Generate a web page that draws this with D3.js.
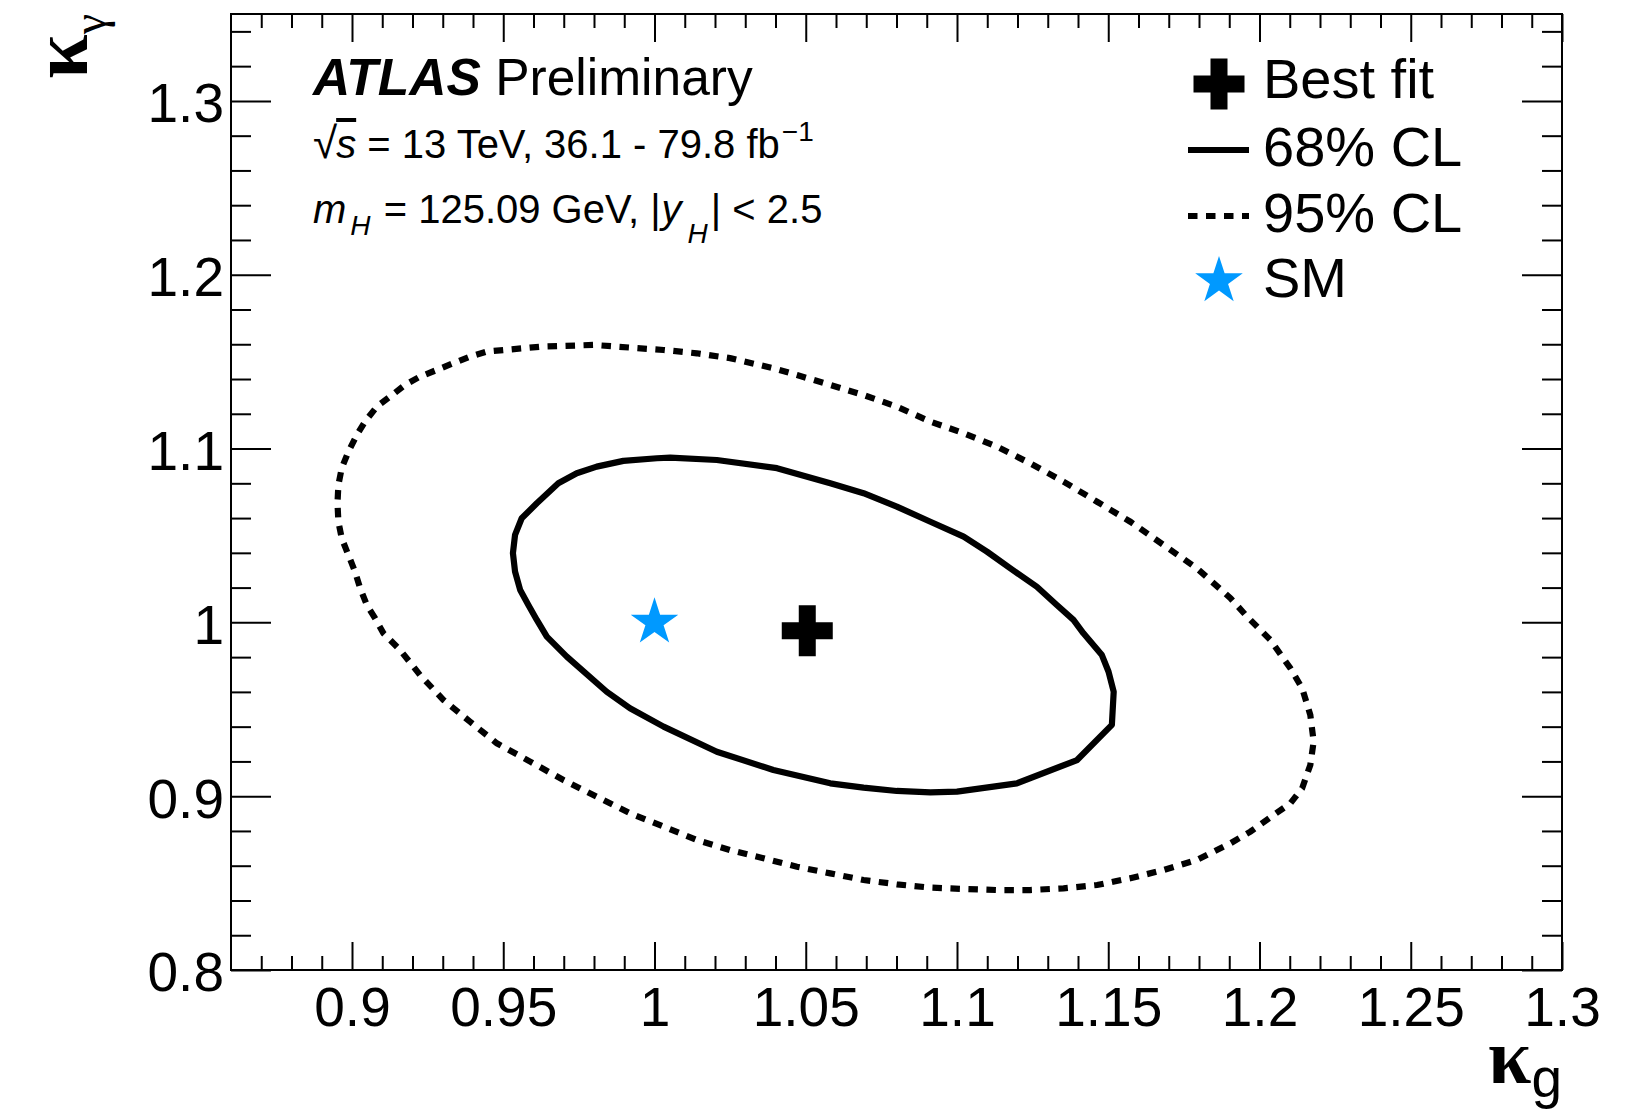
<!DOCTYPE html>
<html>
<head>
<meta charset="utf-8">
<script src="https://cdn.jsdelivr.net/npm/d3@7"></script>
<style>
  html, body { margin: 0; padding: 0; background: #fff; }
  svg { display: block; }
  text { font-family: "Liberation Sans", Arial, Helvetica, sans-serif; fill: #000; }
</style>
</head>
<body>
<svg id="chart" width="1650" height="1112"></svg>
<script>
// Axis ticks and labels
const xMajorTicks = [0.9, 0.95, 1.0, 1.05, 1.1, 1.15, 1.2, 1.25, 1.3];
const xTickLabels = ["0.9", "0.95", "1", "1.05", "1.1", "1.15", "1.2", "1.25", "1.3"];
const yMajorTicks = [0.8, 0.9, 1.0, 1.1, 1.2, 1.3];
const yTickLabels = ["0.8", "0.9", "1", "1.1", "1.2", "1.3"];

// Best-fit point and Standard Model expectation (kappa_g, kappa_gamma)
const bestFit = [1.0505, 0.9952];
const smPoint = [1.0, 1.0];

// 68% CL contour in the (kappa_g, kappa_gamma) plane
const contour68 = [
  [0.9611, 1.0014], [0.9583, 1.0100], [0.9556, 1.0186], [0.9539, 1.0292], [0.9532, 1.0398],
  [0.9539, 1.0503], [0.9561, 1.0599], [0.9611, 1.0685], [0.9682, 1.0800], [0.9743, 1.0858],
  [0.9809, 1.0896], [0.9897, 1.0929], [1.0008, 1.0944], [1.0052, 1.0948], [1.0206, 1.0934],
  [1.0405, 1.0887], [1.0581, 1.0800], [1.0691, 1.0743], [1.0801, 1.0666], [1.0912, 1.0579],
  [1.1022, 1.0493], [1.1099, 1.0407], [1.1176, 1.0311], [1.1264, 1.0205], [1.1330, 1.0100],
  [1.1385, 1.0014], [1.1418, 0.9937], [1.1479, 0.9812], [1.1501, 0.9716], [1.1518, 0.9601],
  [1.1512, 0.9410], [1.1397, 0.9208], [1.1198, 0.9074], [1.1000, 0.9026], [1.0912, 0.9022],
  [1.0801, 0.9030], [1.0691, 0.9049], [1.0581, 0.9074], [1.0393, 0.9151], [1.0206, 0.9256],
  [1.0030, 0.9400], [0.9919, 0.9506], [0.9842, 0.9601], [0.9710, 0.9803], [0.9644, 0.9918]
];

// 95% CL contour
const contour95 = [
  [0.9076, 1.0024], [0.9049, 1.0100], [0.9027, 1.0196], [0.9010, 1.0292], [0.8988, 1.0388],
  [0.8966, 1.0484], [0.8955, 1.0579], [0.8952, 1.0685], [0.8955, 1.0791], [0.8966, 1.0887],
  [0.8988, 1.0982], [0.9016, 1.1078], [0.9043, 1.1155], [0.9082, 1.1241], [0.9126, 1.1299],
  [0.9175, 1.1366], [0.9225, 1.1414], [0.9280, 1.1452], [0.9335, 1.1491], [0.9390, 1.1529],
  [0.9446, 1.1558], [0.9622, 1.1586], [0.9798, 1.1596], [1.0030, 1.1567], [1.0140, 1.1548],
  [1.0250, 1.1520], [1.0393, 1.1462], [1.0471, 1.1423], [1.0581, 1.1366], [1.0691, 1.1308],
  [1.0801, 1.1241], [1.0912, 1.1155], [1.1022, 1.1088], [1.1132, 1.1011], [1.1242, 1.0915],
  [1.1352, 1.0810], [1.1463, 1.0694], [1.1573, 1.0579], [1.1683, 1.0445], [1.1793, 1.0311],
  [1.1904, 1.0139], [1.1959, 1.0033], [1.2036, 0.9899], [1.2102, 0.9736], [1.2141, 0.9621],
  [1.2168, 0.9467], [1.2179, 0.9314], [1.2168, 0.9180], [1.2141, 0.9045], [1.2102, 0.8959],
  [1.2047, 0.8892], [1.1970, 0.8796], [1.1904, 0.8729], [1.1793, 0.8633], [1.1683, 0.8575],
  [1.1573, 0.8528], [1.1463, 0.8489], [1.1352, 0.8470], [1.1242, 0.8460], [1.1132, 0.8460],
  [1.1022, 0.8466], [1.0912, 0.8474], [1.0801, 0.8493], [1.0691, 0.8518], [1.0581, 0.8556],
  [1.0471, 0.8594], [1.0360, 0.8643], [1.0250, 0.8690], [1.0140, 0.8748], [1.0030, 0.8825],
  [0.9919, 0.8902], [0.9809, 0.8997], [0.9699, 0.9093], [0.9589, 0.9199], [0.9479, 0.9304],
  [0.9390, 0.9429], [0.9302, 0.9554], [0.9225, 0.9697], [0.9159, 0.9841], [0.9104, 0.9937]
];

const legendLabels = ["Best fit", "68% CL", "95% CL", "SM"];

// ---- layout ----
const frame = { left: 231, right: 1562, top: 14, bottom: 970 };
const x = d3.scaleLinear().domain([0.86, 1.30]).range([frame.left, frame.right]);
const y = d3.scaleLinear().domain([0.80, 1.35]).range([frame.bottom, frame.top]);

const svg = d3.select("#chart");
const starColor = "#0099ff";
const lineWidth = 6.2;
const dashPattern = "9.5,8.5";

// minor tick positions (every 0.01 in kappa_g, every 0.02 in kappa_gamma)
const xMinor = d3.range(87, 130).filter(v => v % 5 !== 0).map(v => v / 100);
const yMinor = d3.range(82, 136, 2).filter(v => v % 10 !== 0).map(v => v / 100);

// ---- contours ----
const contourLine = d3.line()
  .x(d => x(d[0]))
  .y(d => y(d[1]))
  .curve(d3.curveLinearClosed);

svg.append("path")
  .attr("d", contourLine(contour95))
  .attr("fill", "none")
  .attr("stroke", "#000")
  .attr("stroke-width", lineWidth)
  .attr("stroke-dasharray", dashPattern);

svg.append("path")
  .attr("d", contourLine(contour68))
  .attr("fill", "none")
  .attr("stroke", "#000")
  .attr("stroke-width", lineWidth)
  .attr("stroke-linejoin", "round");

// ---- markers ----
const crossSym = d3.symbol(d3.symbolCross, 1445);
const starSym = d3.symbol(d3.symbolStar, 702);

svg.append("path")
  .attr("d", starSym())
  .attr("transform", `translate(${x(smPoint[0])},${y(smPoint[1])})`)
  .attr("fill", starColor);

svg.append("path")
  .attr("d", crossSym())
  .attr("transform", `translate(${x(bestFit[0])},${y(bestFit[1])})`)
  .attr("fill", "#000");

// ---- frame and axes ----
function styleAxis(sel) {
  sel.select(".domain").remove();
  sel.selectAll(".tick line").attr("stroke", "#000").attr("stroke-width", 2);
  sel.attr("font-family", null).attr("font-size", null);
  sel.selectAll("text")
    .attr("fill", "#000")
    .style("font-family", '"Liberation Sans", Arial, sans-serif')
    .style("font-size", "55px");
}

// bottom: majors with labels, minors
svg.append("g")
  .attr("transform", `translate(0,${frame.bottom})`)
  .call(d3.axisBottom(x).tickValues(xMajorTicks)
    .tickFormat((d, i) => xTickLabels[i]).tickSize(-28).tickPadding(17))
  .call(styleAxis);
svg.append("g")
  .attr("transform", `translate(0,${frame.bottom})`)
  .call(d3.axisBottom(x).tickValues(xMinor).tickFormat("").tickSize(-14))
  .call(styleAxis);

// top mirror ticks
svg.append("g")
  .attr("transform", `translate(0,${frame.top})`)
  .call(d3.axisTop(x).tickValues(xMajorTicks).tickFormat("").tickSize(-28))
  .call(styleAxis);
svg.append("g")
  .attr("transform", `translate(0,${frame.top})`)
  .call(d3.axisTop(x).tickValues(xMinor).tickFormat("").tickSize(-14))
  .call(styleAxis);

// left: majors with labels, minors
const yAxisG = svg.append("g")
  .attr("transform", `translate(${frame.left},0)`)
  .call(d3.axisLeft(y).tickValues(yMajorTicks)
    .tickFormat((d, i) => yTickLabels[i]).tickSize(-40).tickPadding(7))
  .call(styleAxis);
yAxisG.selectAll("text").attr("dy", "0.38em");
svg.append("g")
  .attr("transform", `translate(${frame.left},0)`)
  .call(d3.axisLeft(y).tickValues(yMinor).tickFormat("").tickSize(-20))
  .call(styleAxis);

// right mirror ticks
svg.append("g")
  .attr("transform", `translate(${frame.right},0)`)
  .call(d3.axisRight(y).tickValues(yMajorTicks).tickFormat("").tickSize(-40))
  .call(styleAxis);
svg.append("g")
  .attr("transform", `translate(${frame.right},0)`)
  .call(d3.axisRight(y).tickValues(yMinor).tickFormat("").tickSize(-20))
  .call(styleAxis);

svg.append("rect")
  .attr("x", frame.left).attr("y", frame.top)
  .attr("width", frame.right - frame.left)
  .attr("height", frame.bottom - frame.top)
  .attr("fill", "none")
  .attr("stroke", "#000")
  .attr("stroke-width", 2);

// ---- axis titles ----
const serif = '"Liberation Serif", "Times New Roman", serif';
const xTitle = svg.append("text")
  .attr("x", frame.right)
  .attr("y", 1083)
  .attr("text-anchor", "end");
xTitle.append("tspan")
  .style("font-family", serif)
  .style("font-weight", "bold")
  .style("font-size", "78px")
  .text("κ");
xTitle.append("tspan")
  .attr("dy", 14)
  .style("font-size", "55px")
  .text("g");

const yTitle = svg.append("text")
  .attr("transform", `translate(87,${frame.top}) rotate(-90)`)
  .attr("text-anchor", "end");
yTitle.append("tspan")
  .style("font-family", serif)
  .style("font-weight", "bold")
  .style("font-size", "80px")
  .text("κ");
yTitle.append("tspan")
  .attr("dy", 18)
  .style("font-family", serif)
  .style("font-size", "46px")
  .text("γ");

// ---- ATLAS label block ----
const label1 = svg.append("text").attr("x", 313).attr("y", 95).style("font-size", "51.5px");
label1.append("tspan").style("font-weight", "bold").style("font-style", "italic").text("ATLAS");
label1.append("tspan").text(" Preliminary");

const label2 = svg.append("text").attr("x", 313).attr("y", 158).style("font-size", "40px");
label2.append("tspan").style("font-size", "44px").text("√");
label2.append("tspan").attr("dx", -1).style("font-style", "italic").attr("text-decoration", "overline").text("s");
label2.append("tspan").text(" = 13 TeV, 36.1 - 79.8 fb");
label2.append("tspan").attr("dx", 2).attr("dy", -17).style("font-size", "28px").text("−1");

const label3 = svg.append("text").attr("x", 313).attr("y", 223).style("font-size", "40px");
label3.append("tspan").style("font-style", "italic").text("m");
label3.append("tspan").attr("dx", 4).attr("dy", 12).style("font-style", "italic").style("font-size", "28px").text("H");
label3.append("tspan").attr("dx", 2).attr("dy", -12).text(" = 125.09 GeV, |");
label3.append("tspan").attr("dx", 1).style("font-style", "italic").text("y");
label3.append("tspan").attr("dx", 6).attr("dy", 20).style("font-style", "italic").style("font-size", "28px").text("H");
label3.append("tspan").attr("dx", 3).attr("dy", -20).text("| < 2.5");

// ---- legend ----
const legendX = 1219;        // symbol centre
const legendTextX = 1263;
const legendBase = [98, 166, 232, 297];
const legend = svg.append("g");

legend.append("path")
  .attr("d", crossSym())
  .attr("transform", `translate(${legendX},${legendBase[0] - 14})`)
  .attr("fill", "#000");
legend.append("line")
  .attr("x1", legendX - 31).attr("x2", legendX + 30)
  .attr("y1", legendBase[1] - 16).attr("y2", legendBase[1] - 16)
  .attr("stroke", "#000").attr("stroke-width", lineWidth);
legend.append("line")
  .attr("x1", legendX - 31).attr("x2", legendX + 30)
  .attr("y1", legendBase[2] - 16).attr("y2", legendBase[2] - 16)
  .attr("stroke", "#000").attr("stroke-width", lineWidth)
  .attr("stroke-dasharray", dashPattern);
legend.append("path")
  .attr("d", starSym())
  .attr("transform", `translate(${legendX},${legendBase[3] - 16})`)
  .attr("fill", starColor);

legend.selectAll("text.entry")
  .data(legendLabels)
  .join("text")
  .attr("class", "entry")
  .attr("x", legendTextX)
  .attr("y", (d, i) => legendBase[i])
  .style("font-size", "56px")
  .text(d => d);
</script>
</body>
</html>
